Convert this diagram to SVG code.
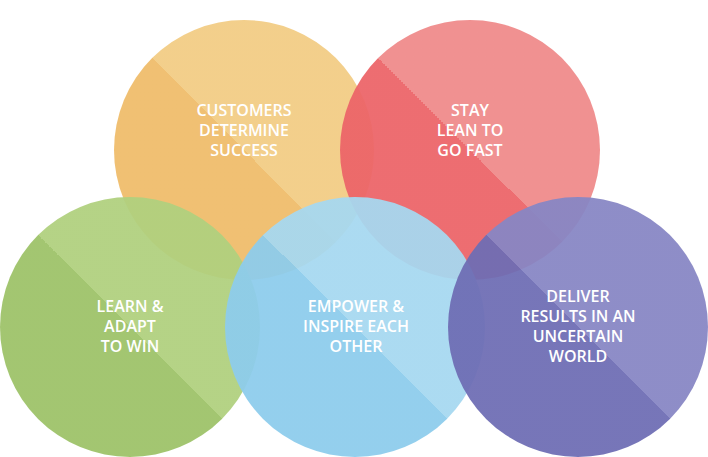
<svg xmlns="http://www.w3.org/2000/svg" width="708" height="457" viewBox="0 0 708 457">
<defs>
<linearGradient id="gO" x1="0" y1="1" x2="1" y2="0"><stop offset="0.5" stop-color="#EFBC6A"/><stop offset="0.5" stop-color="#F2CC84"/></linearGradient>
<linearGradient id="gR" x1="0" y1="1" x2="1" y2="0"><stop offset="0.5" stop-color="#EC6468"/><stop offset="0.5" stop-color="#EF8A8A"/></linearGradient>
<linearGradient id="gG" x1="0" y1="1" x2="1" y2="0"><stop offset="0.5" stop-color="#9DC268"/><stop offset="0.5" stop-color="#B0D07E"/></linearGradient>
<linearGradient id="gB" x1="0" y1="1" x2="1" y2="0"><stop offset="0.5" stop-color="#8DCCEC"/><stop offset="0.5" stop-color="#A6D8F0"/></linearGradient>
<linearGradient id="gP" x1="0" y1="1" x2="1" y2="0"><stop offset="0.5" stop-color="#6E6DB4"/><stop offset="0.5" stop-color="#8786C4"/></linearGradient>
</defs>
<style>
circle{opacity:0.94}
text{fill:#fff;font-family:"Open Sans","Liberation Sans",sans-serif;font-size:16px;font-weight:600;text-anchor:middle}
</style>
<g id="customers"><circle cx="244" cy="150" r="130" fill="url(#gO)"/>
<text x="244" y="116">CUSTOMERS</text><text x="244" y="136">DETERMINE</text><text x="244" y="156">SUCCESS</text></g>
<g id="lean"><circle cx="470" cy="150" r="130" fill="url(#gR)"/>
<text x="470" y="116">STAY</text><text x="470" y="136">LEAN TO</text><text x="470" y="156">GO FAST</text></g>
<g id="learn"><circle cx="130" cy="327" r="130" fill="url(#gG)"/>
<text x="130" y="312">LEARN &amp;</text><text x="130" y="332">ADAPT</text><text x="130" y="352">TO WIN</text></g>
<g id="empower"><circle cx="355" cy="327" r="130" fill="url(#gB)"/>
<text x="356" y="312">EMPOWER &amp;</text><text x="356" y="332">INSPIRE EACH</text><text x="356" y="352">OTHER</text></g>
<g id="deliver"><circle cx="578" cy="327" r="130" fill="url(#gP)"/>
<text x="578" y="302">DELIVER</text><text x="578" y="322">RESULTS IN AN</text><text x="578" y="342">UNCERTAIN</text><text x="578" y="362">WORLD</text></g>
<g id="connectors"/>
</svg>
